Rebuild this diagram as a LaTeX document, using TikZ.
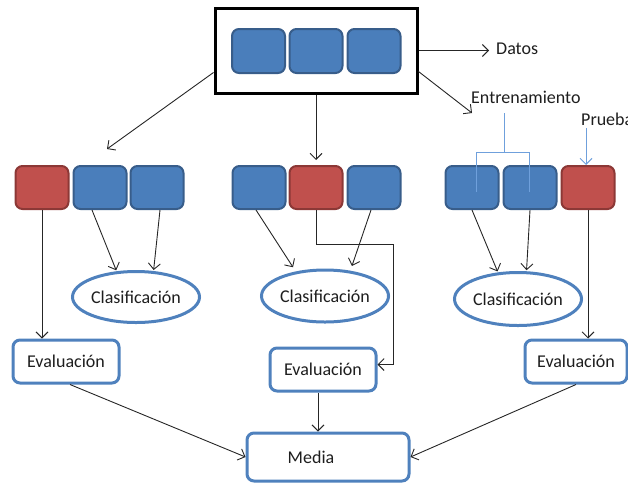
\documentclass[tikz,border=0pt]{standalone}
\usepackage{fontspec}
\setmainfont{Carlito}
\usetikzlibrary{arrows.meta,shapes.geometric}

\definecolor{sqblue}{HTML}{4A7EBB}
\definecolor{sqblueb}{HTML}{385D8A}
\definecolor{sqred}{HTML}{C0504D}
\definecolor{sqredb}{HTML}{8C3836}
\definecolor{outblue}{HTML}{4F81BD}
\definecolor{lineblue}{HTML}{6FA0DC}
\definecolor{txt}{HTML}{1E1E1E}

\tikzset{
  sq/.style={rounded corners=7pt, line width=2pt, minimum width=53pt,
    minimum height=43pt, inner sep=0pt},
  bluesq/.style={sq, fill=sqblue, draw=sqblueb},
  redsq/.style={sq, fill=sqred, draw=sqredb},
  frame/.style={draw=black, line width=3pt, minimum width=202pt,
    minimum height=85pt, inner sep=0pt},
  classif/.style={ellipse, draw=outblue, line width=3pt, fill=white,
    inner sep=0pt, text=txt},
  evalbox/.style={rounded corners=7pt, draw=outblue, line width=3pt,
    fill=white, inner sep=0pt, text=txt},
  lbl/.style={text=txt, inner sep=0pt, anchor=west},
  arr/.style={draw=black!85, line width=0.9pt,
    -{Straight Barb[length=6pt,width=12pt,line width=0.9pt]}},
  brk/.style={draw=lineblue, line width=1pt},
}

\begin{document}
\begin{tikzpicture}[x=1pt, y=-1pt, font=\fontsize{18}{21}\selectfont]
\useasboundingbox (0,0) rectangle (628,485);
\clip (0,0) rectangle (628,485);

% data set: the frame with three blocks
\node[frame] (top) at (316,50.5) {};
\node[bluesq, minimum height=44pt] (t1) at (258.5,51) {};
\node[bluesq, minimum height=44pt] (t2) at (316,51) {};
\node[bluesq, minimum height=44pt] (t3) at (374,51) {};

% three partitions
\node[redsq]  (lr)  at (42,187.5)  {};
\node[bluesq] (lb1) at (100,187.5) {};
\node[bluesq] (lb2) at (157,187.5) {};

\node[bluesq] (mb1) at (259,187.5) {};
\node[redsq]  (mr)  at (316,187.5) {};
\node[bluesq] (mb2) at (374,187.5) {};

\node[bluesq] (rb1) at (472,187.5) {};
\node[bluesq] (rb2) at (530,187.5) {};
\node[redsq]  (rr)  at (588,187.5) {};

% classifiers
\node[classif, minimum width=113pt, minimum height=51pt] (lc) at (136,297) {Clasificación};
\node[classif, minimum width=115pt, minimum height=52pt] (mc) at (325,296) {Clasificación};
\node[classif, minimum width=112pt, minimum height=53pt] (rc) at (518,299) {Clasificación};

% evaluations and mean
\node[evalbox, minimum width=106pt, minimum height=43pt] (le) at (66,361.5) {Evaluación};
\node[evalbox, minimum width=106pt, minimum height=43pt] (me) at (323,369.5) {Evaluación};
\node[evalbox, minimum width=102pt, minimum height=43pt] (re) at (576,361.5) {Evaluación};
\node[evalbox, minimum width=162pt, minimum height=48pt] (media) at (328,457) {\hspace*{-34pt}Media};

% labels
\node[lbl] (datos) at (496,49) {Datos};
\node[lbl] (entr) at (471,97) {Entrenamiento};
\node[lbl] (prueba) at (581,119) {Prueba};

% free ends
\coordinate (toleft) at (107,149);
\coordinate (tomid) at (316,160);
\coordinate (todatos) at (489,50.5);
\coordinate (toentr) at (472,113);
\coordinate (bend) at (393,244);
\coordinate (brtop) at (504,113);
\coordinate (brmid) at (504,152);
\coordinate (brl) at (476,152);
\coordinate (brr) at (529,152);
\coordinate (brlend) at (476,192);
\coordinate (brrend) at (529,192);

% arrows from the data set
\draw[arr] ([yshift=-22pt]top.west) -- (toleft);
\draw[arr] (top.south) -- (tomid);
\draw[arr] (top.east) -- (todatos);
\draw[arr] ([yshift=-21pt]top.east) -- (toentr);

% training bracket and test arrow
\draw[brk] (brtop) -- (brmid);
\draw[brk] (brlend) -- (brl) -- (brr) -- (brrend);
\draw[draw=lineblue, line width=1pt,
  -{Straight Barb[length=6pt,width=12pt,line width=1pt]}]
  ([xshift=5pt,yshift=-9pt]prueba.west) -- ([xshift=-2pt]rr.north);

% training blocks to classifiers
\draw[arr, shorten >=1pt] ([xshift=-8pt]lb1.south) -- (lc.127);
\draw[arr, shorten >=1pt] ([xshift=3pt]lb2.south) -- (lc.56);
\draw[arr, shorten >=5pt] ([xshift=-3pt]mb1.south) -- (mc.140);
\draw[arr, shorten >=5pt] ([xshift=-3pt]mb2.south) -- (mc.45);
\draw[arr, shorten >=1pt] (rb1.south) -- (rc.127);
\draw[arr, shorten >=1pt] (rb2.south) -- (rc.73);

% test blocks to evaluations
\draw[arr] (lr.south) -- (lr.south |- le.north);
\draw[arr] (rr.south) -- (rr.south |- re.north);
\draw[arr] (mr.south) |- (bend) |- ([yshift=5pt]me.east);

% evaluations to the mean
\draw[arr] ([xshift=4pt]le.south) -- (media.west);
\draw[arr] ([xshift=-5pt]me.south) -- ([xshift=-5pt]me.south |- media.north);
\draw[arr] (re.south) -- (media.east);
\end{tikzpicture}
\end{document}
